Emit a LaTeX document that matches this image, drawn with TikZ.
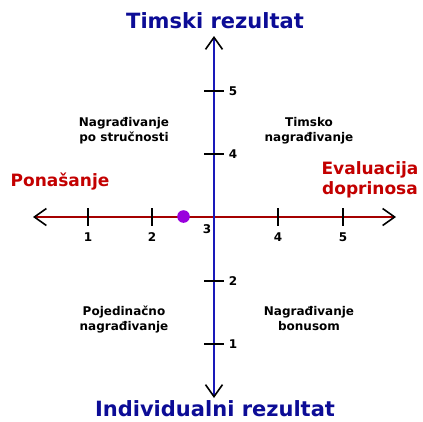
\documentclass[tikz,border=0pt]{standalone}
\usepackage{fontspec}
\setmainfont{DejaVu Sans}
\usetikzlibrary{arrows.meta}
\definecolor{axisred}{RGB}{165,0,0}
\definecolor{axisblue}{RGB}{25,25,185}
\definecolor{titleblue}{RGB}{12,12,150}
\definecolor{labelred}{RGB}{195,0,0}
\definecolor{dotpurple}{RGB}{153,0,221}
\tikzset{>={Straight Barb[black,length=12pt,width=17pt]}}
\tikzset{
  axis/.style={<->,line width=1.6pt},
  title/.style={font=\bfseries\fontsize{21}{24}\selectfont,text=titleblue,inner sep=0pt},
  sidelabel/.style={font=\bfseries\fontsize{17}{20}\selectfont,text=labelred,align=center,inner sep=0pt},
  quadrant/.style={font=\bfseries\fontsize{12}{15}\selectfont,align=center,inner sep=0pt},
  ticklabel/.style={font=\bfseries\fontsize{12}{14}\selectfont,inner sep=0pt},
}

\begin{document}
\begin{tikzpicture}[x=1pt,y=-1pt]
    \useasboundingbox (0,0) rectangle (423,421);
    % axes
    \coordinate (left) at (33,217);
    \coordinate (right) at (396,217);
    \coordinate (top) at (214,36);
    \coordinate (bottom) at (214,398);
    \draw[axis,axisred] (left)--(right);
    \draw[axis,axisblue] (bottom)--(top);
    % ticks
    \foreach \x/\t in {88/1,152/2,278/4,343/5}{
        \draw[line width=1.6pt] (\x,208)--(\x,226);
        \node[ticklabel] (h\t) at (\x,237) {\t};
    }
    \foreach \y/\t in {91/5,154/4,281/2,344/1}{
        \draw[line width=1.6pt] (204,\y)--(224,\y);
        \node[ticklabel] (v\t) at (233,\y) {\t};
    }
    \node[ticklabel] (origin) at (207,229) {3};
    \fill[dotpurple] (183.5,216.5) circle (6.3pt);
    % titles
    \node[title] (team) at (215,21) {Timski rezultat};
    \node[title] (indiv) at (215,409) {Individualni rezultat};
    \node[sidelabel] (behav) at (60,182) {Ponašanje};
    \node[sidelabel] (contrib) at (370,180) {Evaluacija\\doprinosa};
    % quadrants
    \node[quadrant] (q1) at (309,131) {Timsko\\nagrađivanje};
    \node[quadrant] (q2) at (124,131) {Nagrađivanje\\po stručnosti};
    \node[quadrant] (q3) at (124,319) {Pojedinačno\\nagrađivanje};
    \node[quadrant] (q4) at (309,319) {Nagrađivanje\\bonusom};
\end{tikzpicture}
\end{document}
